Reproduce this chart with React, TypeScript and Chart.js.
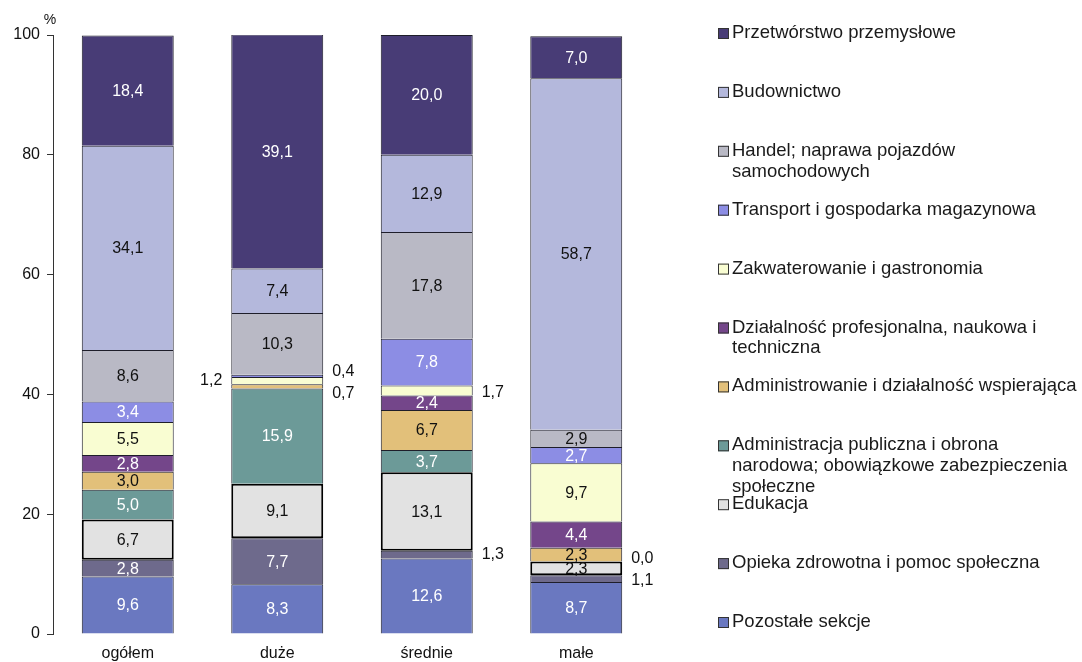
import React, { useEffect, useRef } from "react";
import { Chart, registerables } from "chart.js";

Chart.register(...registerables);

const categories = ["ogółem", "duże", "średnie", "małe"];

// series listed bottom-to-top of each stack
const pozostale = [9.6, 8.3, 12.6, 8.7];
const opieka = [2.8, 7.7, 1.3, 1.1];
const edukacja = [6.7, 9.1, 13.1, 2.3];
const administracja = [5.0, 15.9, 3.7, 0.0];
const administrowanie = [3.0, 0.7, 6.7, 2.3];
const dzialalnosc = [2.8, 0.0, 2.4, 4.4];
const zakwaterowanie = [5.5, 1.2, 1.7, 9.7];
const transport = [3.4, 0.4, 7.8, 2.7];
const handel = [8.6, 10.3, 17.8, 2.9];
const budownictwo = [34.1, 7.4, 12.9, 58.7];
const przetworstwo = [18.4, 39.1, 20.0, 7.0];

const seriesNames = [
  "Pozostałe sekcje",
  "Opieka zdrowotna i pomoc społeczna",
  "Edukacja",
  "Administracja publiczna i obrona\nnarodowa; obowiązkowe zabezpieczenia\nspołeczne",
  "Administrowanie i działalność wspierająca",
  "Działalność profesjonalna, naukowa i\ntechniczna",
  "Zakwaterowanie i gastronomia",
  "Transport i gospodarka magazynowa",
  "Handel; naprawa pojazdów\nsamochodowych",
  "Budownictwo",
  "Przetwórstwo przemysłowe",
];
const seriesValues = [
  pozostale, opieka, edukacja, administracja, administrowanie,
  dzialalnosc, zakwaterowanie, transport, handel, budownictwo, przetworstwo,
];
const seriesColors = [
  "#6A78C0", "#6E6A8C", "#E2E2E2", "#6C9A98", "#E2C07A",
  "#74468A", "#F9FDD2", "#8C8DE4", "#B9B9C5", "#B4B8DC", "#483C76",
];
const labelColors = [
  "#fff", "#fff", "#111", "#fff", "#111",
  "#fff", "#111", "#fff", "#111", "#111", "#fff",
];
const yTicks = [0, 20, 40, 60, 80, 100];

// small values labelled beside the bar: key "series-category"
const outsideLabels: Record<string, { side: "left" | "right"; dy: number }> = {
  "6-1": { side: "left", dy: 0 },
  "7-1": { side: "right", dy: -4 },
  "4-1": { side: "right", dy: 7 },
  "6-2": { side: "right", dy: 2 },
  "1-2": { side: "right", dy: 0 },
  "3-3": { side: "right", dy: -3 },
  "1-3": { side: "right", dy: 2 },
};

const FONT = "'Liberation Sans', Arial, sans-serif";
const fmt = (v: number) => v.toFixed(1).replace(".", ",");

const valueLabelPlugin = {
  id: "valueLabels",
  afterDatasetsDraw(chart: any) {
    const ctx = chart.ctx;
    ctx.save();
    ctx.font = `16px ${FONT}`;
    ctx.textBaseline = "middle";
    chart.data.datasets.forEach((ds: any, i: number) => {
      const meta = chart.getDatasetMeta(i);
      meta.data.forEach((el: any, j: number) => {
        const v = ds.data[j];
        const cy = (el.y + el.base) / 2;
        const key = `${i}-${j}`;
        if (v >= 2) {
          ctx.fillStyle = labelColors[i];
          ctx.textAlign = "center";
          ctx.fillText(fmt(v), el.x, cy + 1);
        } else if (outsideLabels[key]) {
          const o = outsideLabels[key];
          ctx.fillStyle = "#111";
          if (o.side === "right") {
            ctx.textAlign = "left";
            ctx.fillText(fmt(v), el.x + el.width / 2 + 9, cy + o.dy);
          } else {
            ctx.textAlign = "right";
            ctx.fillText(fmt(v), el.x - el.width / 2 - 9, cy + o.dy);
          }
        }
      });
    });
    // "%" unit
    ctx.fillStyle = "#111";
    ctx.font = `14px ${FONT}`;
    ctx.textAlign = "center";
    ctx.fillText("%", chart.chartArea.left - 3, chart.chartArea.top - 15);
    ctx.restore();
  },
};

const legendPlugin = {
  id: "customLegend",
  afterDraw(chart: any) {
    const ctx = chart.ctx;
    ctx.save();
    ctx.font = `18.5px ${FONT}`;
    ctx.textBaseline = "middle";
    ctx.textAlign = "left";
    const n = seriesNames.length;
    const top = 33;
    const step = 58.9;
    for (let k = 0; k < n; k++) {
      const i = n - 1 - k;
      const y = top + k * step;
      ctx.fillStyle = seriesColors[i];
      ctx.fillRect(718, y - 5, 11, 11);
      ctx.strokeStyle = "#333";
      ctx.lineWidth = 1;
      ctx.strokeRect(718.5, y - 4.5, 10, 10);
      ctx.fillStyle = "#1a1a1a";
      seriesNames[i].split("\n").forEach((line, li) => {
        ctx.fillText(line, 732, y + li * 20.7);
      });
    }
    ctx.restore();
  },
};

export default function App() {
  const ref = useRef<HTMLCanvasElement | null>(null);
  useEffect(() => {
    if (!ref.current) return;
    Chart.defaults.font.family = FONT;
    const chart = new Chart(ref.current, {
      type: "bar",
      data: {
        labels: categories,
        datasets: seriesValues.map((vals, i) => ({
          label: seriesNames[i].replace(/\n/g, " "),
          data: vals,
          backgroundColor: seriesColors[i],
          borderColor: i === 2 ? "#000" : "#1e1e2a",
          borderWidth: i === 2 ? 2 : 1,
          borderSkipped: i === 2 ? false : "start",
          categoryPercentage: 1,
          barPercentage: 0.615,
        })),
      },
      options: {
        responsive: false,
        animation: false,
        devicePixelRatio: 1,
        layout: { padding: { left: 0, top: 35, right: 431, bottom: 0 } },
        plugins: {
          legend: { display: false },
          tooltip: { enabled: false },
        },
        scales: {
          x: {
            stacked: true,
            grid: { display: false, drawTicks: false },
            border: { display: false },
            ticks: { color: "#111", font: { size: 16, family: FONT }, padding: 10 },
            afterFit: (s: any) => { s.height = 28; },
          },
          y: {
            stacked: true,
            min: 0,
            max: 100,
            afterBuildTicks: (s: any) => { s.ticks = yTicks.map((v) => ({ value: v })); },
            grid: { display: true, drawOnChartArea: false, drawTicks: true, tickLength: 6, color: "#333" },
            border: { display: true, color: "#333" },
            ticks: { color: "#111", font: { size: 16, family: FONT }, padding: 7 },
            afterFit: (s: any) => { s.width = 53; },
          },
        },
      },
      plugins: [valueLabelPlugin, legendPlugin],
    });
    return () => chart.destroy();
  }, []);
  return (
    <div style={{ position: "fixed", left: 0, top: 0, width: 1082, height: 662, background: "#fff" }}>
      <canvas ref={ref} width={1082} height={662} />
    </div>
  );
}
